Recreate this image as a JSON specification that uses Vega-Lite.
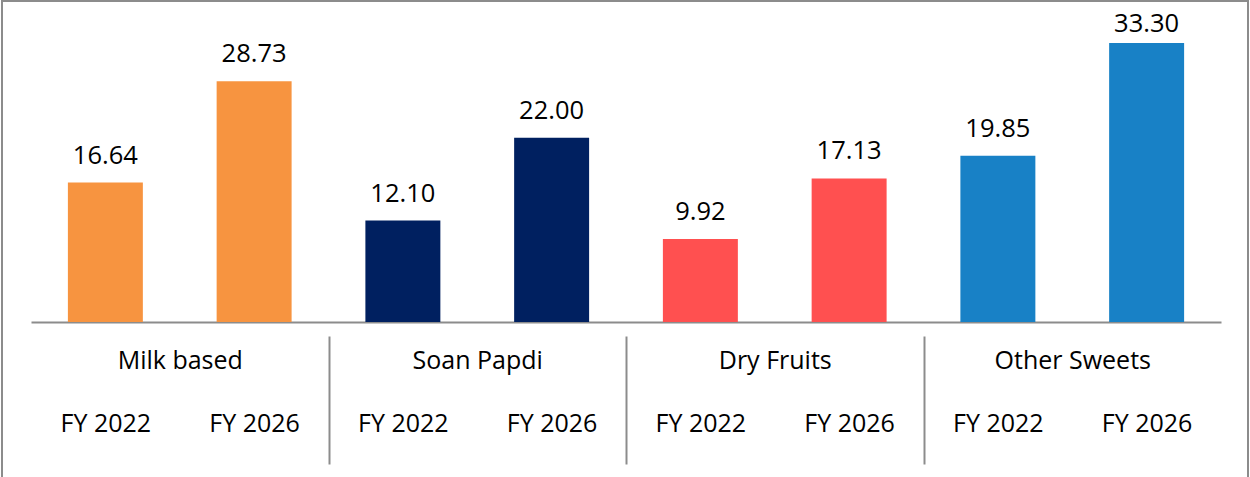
{
  "$schema": "https://vega.github.io/schema/vega-lite/v6.json",
  "width": 1246,
  "height": 480,
  "autosize": "none",
  "padding": {"left": 2, "top": 1, "right": 2, "bottom": 0},
  "background": "white",
  "config": {
    "view": {"stroke": "#8c8c8c", "strokeWidth": 2},
    "font": "Open Sans",
    "axis": {"grid": false}
  },
  "data": {
    "values": [
      {"category": "Milk based", "year": "FY 2022", "slot": "Milk based|FY 2022", "value": 16.64},
      {"category": "Milk based", "year": "FY 2026", "slot": "Milk based|FY 2026", "value": 28.73},
      {"category": "Soan Papdi", "year": "FY 2022", "slot": "Soan Papdi|FY 2022", "value": 12.10},
      {"category": "Soan Papdi", "year": "FY 2026", "slot": "Soan Papdi|FY 2026", "value": 22.00},
      {"category": "Dry Fruits", "year": "FY 2022", "slot": "Dry Fruits|FY 2022", "value": 9.92},
      {"category": "Dry Fruits", "year": "FY 2026", "slot": "Dry Fruits|FY 2026", "value": 17.13},
      {"category": "Other Sweets", "year": "FY 2022", "slot": "Other Sweets|FY 2022", "value": 19.85},
      {"category": "Other Sweets", "year": "FY 2026", "slot": "Other Sweets|FY 2026", "value": 33.30}
    ]
  },
  "layer": [
    {
      "mark": {"type": "bar"},
      "encoding": {
        "x": {
          "field": "category", "type": "nominal",
          "sort": ["Milk based", "Soan Papdi", "Dry Fruits", "Other Sweets"],
          "scale": {"range": [29, 1219], "paddingInner": 0, "paddingOuter": 0},
          "axis": {
            "orient": "bottom", "offset": -145, "title": null,
            "domain": false, "ticks": true, "tickBand": "extent", "tickExtra": false,
            "tickSize": 128, "tickWidth": 2,
            "tickColor": {"condition": {"test": "datum.value === 'Other Sweets' || datum.index === -1 || datum.label === ''", "value": "transparent"}, "value": "#8c8c8c"},
            "labelPadding": -116, "labelFontSize": 25, "labelFont": "Open Sans",
            "labelColor": "#000000", "labelAngle": 0
          }
        },
        "xOffset": {
          "field": "year", "type": "nominal",
          "scale": {"paddingInner": 0.496, "paddingOuter": 0.248}
        },
        "y": {
          "field": "value", "type": "quantitative",
          "scale": {"domain": [0, 37], "range": [321, 11], "nice": false, "zero": true},
          "axis": null
        },
        "color": {
          "field": "category", "type": "nominal",
          "scale": {
            "domain": ["Milk based", "Soan Papdi", "Dry Fruits", "Other Sweets"],
            "range": ["#F79440", "#002060", "#FF5050", "#1881C6"]
          },
          "legend": null
        }
      }
    },
    {
      "mark": {
        "type": "text", "baseline": "alphabetic",
        "dy": {"expr": "max(-19, 31 - scale('y', datum.value))"},
        "fontSize": 25.5, "font": "Open Sans", "color": "#000000"
      },
      "encoding": {
        "x": {
          "field": "slot", "type": "nominal", "sort": null,
          "scale": {"range": [29, 1219], "paddingInner": 0.496, "paddingOuter": 0.248},
          "axis": {
            "orient": "bottom", "offset": -159, "title": null,
            "domain": true, "domainColor": "#8c8c8c", "domainWidth": 2,
            "ticks": false, "tickSize": 0,
            "labelExpr": "split(datum.value, '|')[1]",
            "labelPadding": 89, "labelFontSize": 25, "labelFont": "Open Sans",
            "labelColor": "#000000", "labelAngle": 0
          }
        },
        "y": {"field": "value", "type": "quantitative"},
        "text": {"field": "value", "type": "quantitative", "format": ".2f"}
      }
    }
  ],
  "resolve": {"scale": {"x": "independent"}, "axis": {"x": "independent"}}
}
